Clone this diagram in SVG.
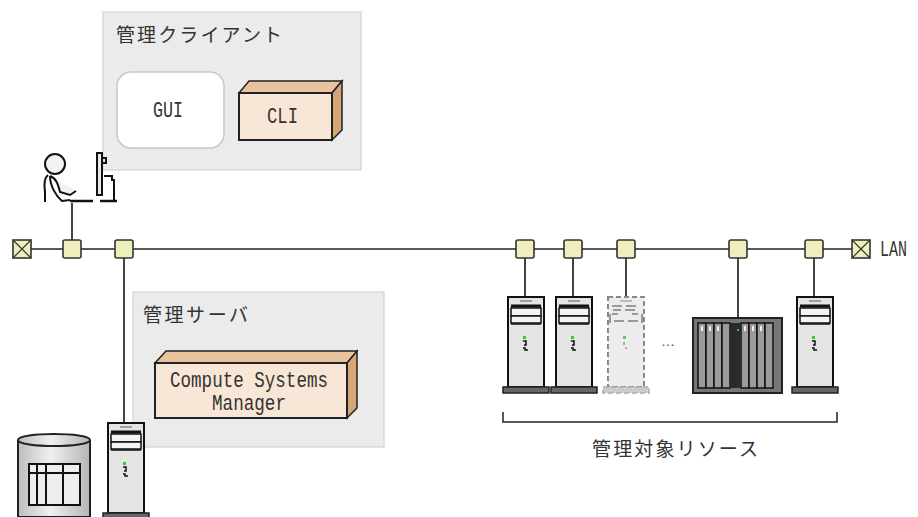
<svg xmlns="http://www.w3.org/2000/svg" width="918" height="517" viewBox="0 0 918 517">
  <style>
    .area { fill: #ebebeb; stroke: #d2d2d2; stroke-width: 1.2; }
    .jp { font-family: "Noto Sans CJK JP", "Noto Sans", sans-serif; font-size: 19px; fill: #333; }
    .mono { font-family: "Liberation Mono", "DejaVu Sans Mono", monospace; font-size: 22px; fill: #333; }
    .wire { stroke: #222; stroke-width: 1.5; fill: none; }
    .drop { stroke: #444; stroke-width: 2; fill: none; }
    .node { fill: #efefbe; stroke: #333; stroke-width: 1.6; }
    .ink { stroke: #111; stroke-width: 2; fill: none; }
  </style>
  <defs>
    <!-- tower server icon, origin at top-left of the cabinet -->
    <symbol id="server" overflow="visible">
      <rect x="0" y="0" width="36" height="90" fill="#e4e4e4" stroke="#111" stroke-width="2"/>
      <line x1="12" y1="4" x2="24" y2="4" stroke="#888" stroke-width="1.5"/>
      <line x1="3" y1="9" x2="33" y2="9" stroke="#111" stroke-width="3"/>
      <rect x="3" y="11" width="30" height="8" fill="#f4f4f4" stroke="#111" stroke-width="1.5"/>
      <rect x="3" y="19" width="30" height="7" fill="#f4f4f4" stroke="#111" stroke-width="1.5"/>
      <line x1="3" y1="27" x2="33" y2="27" stroke="#111" stroke-width="1.5"/>
      <rect x="15" y="39" width="3" height="3" fill="#3c3"/>
      <path d="M15 44 h3 v4 h-2 M15 51 h2 v2 h3" stroke="#111" stroke-width="1.5" fill="none"/>
      <rect x="-5" y="90" width="46" height="6" fill="#666" stroke="#222" stroke-width="1.5"/>
    </symbol>
    <!-- same server drawn as a dashed outline -->
    <symbol id="server-ghost" overflow="visible">
      <rect x="0" y="0" width="36" height="90" fill="#ececec" stroke="#888" stroke-width="2" stroke-dasharray="5 3"/>
      <line x1="12" y1="4" x2="24" y2="4" stroke="#aaa" stroke-width="1.5"/>
      <path d="M4 9 h10 M18 9 h10 M5 13 h8 M17 13 h10 M4 17 h6 M24 17 h6 M6 24 h10 M20 24 h10" stroke="#999" stroke-width="2"/>
      <line x1="2" y1="17" x2="2" y2="26" stroke="#999" stroke-width="2"/>
      <line x1="34" y1="17" x2="34" y2="26" stroke="#999" stroke-width="2"/>
      <rect x="15" y="39" width="3" height="3" fill="#5c5"/>
      <path d="M16 45 v3 M17 51 h2" stroke="#999" stroke-width="1.5"/>
      <rect x="-5" y="90" width="46" height="6" fill="#ccc" stroke="#aaa" stroke-width="1.5" stroke-dasharray="5 3"/>
    </symbol>
    <!-- LAN terminator -->
    <symbol id="term" overflow="visible">
      <rect x="-9" y="-9" width="18" height="18" fill="#efefbe" stroke="#333" stroke-width="1.6"/>
      <path d="M-9 -9 L9 9 M9 -9 L-9 9" stroke="#333" stroke-width="1.2"/>
    </symbol>
    <linearGradient id="drum" x1="0" y1="0" x2="1" y2="0">
      <stop offset="0" stop-color="#bdbdbd"/>
      <stop offset="0.45" stop-color="#f0f0f0"/>
      <stop offset="1" stop-color="#b5b5b5"/>
    </linearGradient>
  </defs>

  <!-- management client area -->
  <g id="client-area">
    <rect class="area" x="103" y="12" width="258" height="158"/>
    <text class="jp" x="116" y="42" textLength="166" lengthAdjust="spacing">管理クライアント</text>
  </g>
  <g id="gui">
    <rect x="117" y="72" width="107" height="76" rx="14" fill="#fff" stroke="#c8c8c8" stroke-width="1.5"/>
    <text class="mono" x="153" y="117" textLength="30" lengthAdjust="spacingAndGlyphs">GUI</text>
  </g>
  <g id="cli">
    <polygon points="239,93 249,81 342,81 332,93" fill="#e9c39d" stroke="#222" stroke-width="1.5"/>
    <polygon points="332,93 342,81 342,130 332,140" fill="#d6a677" stroke="#222" stroke-width="1.5"/>
    <rect x="239" y="93" width="93" height="47" fill="#f8e6d6" stroke="#222" stroke-width="2"/>
    <text class="mono" x="267" y="123" textLength="31" lengthAdjust="spacingAndGlyphs">CLI</text>
  </g>

  <!-- management server area -->
  <g id="server-area">
    <rect class="area" x="133" y="292" width="251" height="155"/>
    <text class="jp" x="143" y="322" textLength="105" lengthAdjust="spacing">管理サーバ</text>
  </g>
  <g id="csm">
    <polygon points="155,363 166,351 357,351 347,363" fill="#e9c39d" stroke="#222" stroke-width="1.5"/>
    <polygon points="347,363 357,351 357,408 347,418" fill="#d6a677" stroke="#222" stroke-width="1.5"/>
    <rect x="155" y="363" width="192" height="55" fill="#f8e6d6" stroke="#222" stroke-width="2"/>
    <text class="mono" x="170" y="387" textLength="158" lengthAdjust="spacingAndGlyphs">Compute Systems</text>
    <text class="mono" x="212" y="410" textLength="74" lengthAdjust="spacingAndGlyphs">Manager</text>
  </g>

  <!-- connectors -->
  <g id="connectors">
    <line class="wire" x1="22" y1="249" x2="861" y2="249"/>
    <line class="drop" x1="72" y1="203" x2="72" y2="240"/>
    <line class="drop" x1="124" y1="258" x2="124" y2="423"/>
    <line class="drop" x1="525" y1="258" x2="525" y2="297"/>
    <line class="drop" x1="573" y1="258" x2="573" y2="297"/>
    <line class="drop" x1="626" y1="258" x2="626" y2="297"/>
    <line class="drop" x1="738" y1="258" x2="738" y2="318"/>
    <line class="drop" x1="814" y1="258" x2="814" y2="297"/>
  </g>

  <!-- LAN nodes -->
  <g id="lan">
    <use href="#term" x="22" y="249"/>
    <use href="#term" x="861" y="249"/>
    <text class="mono" x="880" y="256" font-size="19" textLength="27" lengthAdjust="spacingAndGlyphs">LAN</text>
  </g>
  <g id="port-client"><rect class="node" x="63" y="240" width="18" height="18" rx="2"/></g>
  <g id="port-server"><rect class="node" x="115" y="240" width="18" height="18" rx="2"/></g>
  <g id="port-r1"><rect class="node" x="516" y="240" width="18" height="18" rx="2"/></g>
  <g id="port-r2"><rect class="node" x="564" y="240" width="18" height="18" rx="2"/></g>
  <g id="port-r3"><rect class="node" x="617" y="240" width="18" height="18" rx="2"/></g>
  <g id="port-r4"><rect class="node" x="729" y="240" width="18" height="18" rx="2"/></g>
  <g id="port-r5"><rect class="node" x="805" y="240" width="18" height="18" rx="2"/></g>

  <!-- operator at a terminal -->
  <g id="operator">
    <circle cx="55" cy="164" r="10" fill="#f2f2f2" stroke="#111" stroke-width="2"/>
    <path d="M48 175 C44 178 44 185 45 192 L45 202" class="ink"/>
    <path d="M50 176 C56 178 58 184 60 192 L70 195 L76 191" fill="#f2f2f2" stroke="#111" stroke-width="2"/>
    <path d="M50 176 C50 186 56 196 62 201 L70 200" fill="none" stroke="#111" stroke-width="2"/>
    <line x1="70" y1="201" x2="93" y2="201" stroke="#111" stroke-width="2.5"/>
    <rect x="97" y="153" width="5" height="42" fill="#e8e8e8" stroke="#111" stroke-width="2"/>
    <path d="M103 158 h3 v5 h-3" class="ink"/>
    <path d="M104 176 h8 v4 h2 v20" class="ink"/>
    <line x1="100" y1="201" x2="117" y2="201" stroke="#111" stroke-width="2.5"/>
  </g>

  <!-- management server hardware -->
  <g id="mgmt-server">
    <use href="#server" x="108" y="423"/>
  </g>
  <g id="database">
    <path d="M18 440 C18 432 90 432 90 440 L90 517 L18 517 Z" fill="url(#drum)" stroke="#222" stroke-width="2"/>
    <path d="M18 440 C18 448 90 448 90 440" fill="none" stroke="#222" stroke-width="2"/>
    <rect x="29" y="464" width="51" height="41" fill="#eee" stroke="#111" stroke-width="2"/>
    <path d="M29 473 H80 M37 464 V505 M46 464 V505 M63 464 V505" stroke="#111" stroke-width="2"/>
  </g>

  <!-- managed resources -->
  <g id="res-server1"><use href="#server" x="508" y="297"/></g>
  <g id="res-server2"><use href="#server" x="556" y="297"/></g>
  <g id="res-server3"><use href="#server-ghost" x="608" y="297"/></g>
  <text x="668" y="346" font-family="Liberation Sans, sans-serif" font-size="14" fill="#444" text-anchor="middle">…</text>
  <g id="res-chassis">
    <rect x="693" y="318" width="89" height="75" fill="#777" stroke="#222" stroke-width="2"/>
    <g fill="#9a9a9a" stroke="#111" stroke-width="1.5">
      <rect x="698" y="323" width="8" height="65"/>
      <rect x="706" y="323" width="8" height="65"/>
      <rect x="714" y="323" width="8" height="65"/>
      <rect x="722" y="323" width="8" height="65"/>
      <rect x="741" y="323" width="8" height="65"/>
      <rect x="749" y="323" width="8" height="65"/>
      <rect x="757" y="323" width="8" height="65"/>
      <rect x="765" y="323" width="8" height="65"/>
    </g>
    <rect x="730" y="323" width="11" height="65" fill="#2a2a2a"/>
    <rect x="737" y="329" width="2" height="2" fill="#3c3"/>
    <g fill="#eee">
      <rect x="701" y="326" width="2" height="5"/><rect x="709" y="326" width="2" height="5"/><rect x="717" y="326" width="2" height="5"/>
      <rect x="744" y="326" width="2" height="5"/><rect x="752" y="326" width="2" height="5"/><rect x="760" y="326" width="2" height="5"/>
    </g>
  </g>
  <g id="res-server4"><use href="#server" x="797" y="297"/></g>

  <!-- grouping bracket for managed resources -->
  <g id="resources-label">
    <path d="M503 412 V422 H837 V412" fill="none" stroke="#222" stroke-width="1.5"/>
    <text class="jp" x="592" y="456" textLength="166" lengthAdjust="spacing">管理対象リソース</text>
  </g>
</svg>
